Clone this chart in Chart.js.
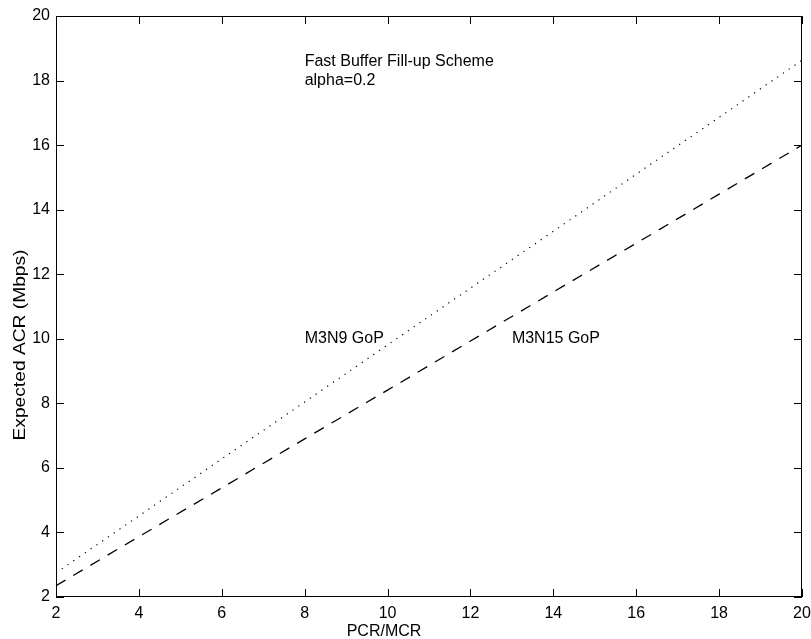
<!DOCTYPE html>
<html>
<head>
<meta charset="utf-8">
<script src="https://cdn.jsdelivr.net/npm/chart.js@4/dist/chart.umd.min.js"></script>
<style>
  html, body { margin: 0; padding: 0; background: #fff; }
  #wrap { width: 811px; height: 639px; }
</style>
</head>
<body>
<div id="wrap"><canvas id="acrChart" width="811" height="639"></canvas></div>
<script>
// values
const pcrMcr = [2, 4, 6, 8, 10, 12, 14, 16, 18, 20];
const acrM3N9 = [2.75, 4.51, 6.28, 8.04, 9.81, 11.57, 13.33, 15.10, 16.86, 18.63];
const acrM3N15 = [2.35, 3.87, 5.38, 6.90, 8.41, 9.93, 11.45, 12.96, 14.48, 16.00];
const tickValues = [2, 4, 6, 8, 10, 12, 14, 16, 18, 20];
const notes = [
    { text: "Fast Buffer Fill-up Scheme", x: 8, y: 18.6 },
    { text: "alpha=0.2", x: 8, y: 18.0 },
    { text: "M3N9 GoP", x: 8, y: 10 },
    { text: "M3N15 GoP", x: 13, y: 10 },
];

const FONT = "'Liberation Sans', Arial, Helvetica, sans-serif";

const toPoints = (xs, ys) => xs.map((x, i) => ({ x: x, y: ys[i] }));

// box + inward tick marks, like the original plot
const boxTicks = {
    id: "boxTicks",
    afterDraw(chart) {
        const { ctx, chartArea: a, scales } = chart;
        const len = 8;
        ctx.save();
        ctx.strokeStyle = "#000";
        ctx.lineWidth = 1;
        ctx.strokeRect(a.left + 0.5, a.top + 0.5, a.right - a.left - 1, a.bottom - a.top - 1);
        ctx.beginPath();
        tickValues.forEach(v => {
            const px = Math.round(scales.x.getPixelForValue(v)) + 0.5;
            ctx.moveTo(px, a.bottom);
            ctx.lineTo(px, a.bottom - len);
            ctx.moveTo(px, a.top);
            ctx.lineTo(px, a.top + len);
            const py = Math.round(scales.y.getPixelForValue(v)) + 0.5;
            ctx.moveTo(a.left, py);
            ctx.lineTo(a.left + len, py);
            ctx.moveTo(a.right, py);
            ctx.lineTo(a.right - len, py);
        });
        ctx.stroke();

        // text labels inside the plot
        ctx.fillStyle = "#000";
        ctx.font = "16px " + FONT;
        ctx.textAlign = "left";
        ctx.textBaseline = "middle";
        notes.forEach(n => {
            ctx.fillText(n.text, scales.x.getPixelForValue(n.x), scales.y.getPixelForValue(n.y));
        });

        // axis titles
        ctx.textAlign = "center";
        ctx.fillText("PCR/MCR", 384, 632);
        ctx.translate(21, 345);
        ctx.rotate(-Math.PI / 2);
        ctx.scale(1.2, 1); // the y label is drawn wider in the original
        ctx.fillText("Expected ACR (Mbps)", 0, 0);
        ctx.restore();
    }
};

const ctx = document.getElementById("acrChart").getContext("2d");
new Chart(ctx, {
    type: "line",
    data: {
        datasets: [{
            label: "M3N9 GoP",
            data: toPoints(pcrMcr, acrM3N9),
            borderColor: "#000",
            borderWidth: 1.2,
            borderDash: [1.2, 5.8],
            pointRadius: 0,
            tension: 0,
        }, {
            label: "M3N15 GoP",
            data: toPoints(pcrMcr, acrM3N15),
            borderColor: "#000",
            borderWidth: 1.3,
            borderDash: [11, 9],
            pointRadius: 0,
            tension: 0,
        }],
    },
    options: {
        responsive: false,
        devicePixelRatio: 1,
        animation: false,
        layout: { padding: { top: 16, right: 9, left: 0, bottom: 0 } },
        plugins: {
            legend: { display: false },
            tooltip: { enabled: false },
        },
        scales: {
            x: {
                type: "linear",
                min: 2,
                max: 20,
                afterFit: (s) => { s.height = 42; s.paddingLeft = 0; s.paddingRight = 0; },
                afterBuildTicks: (s) => { s.ticks = tickValues.map(v => ({ value: v })); },
                grid: { display: false, drawTicks: false },
                border: { display: false },
                ticks: { color: "#000", padding: 7, maxRotation: 0, font: { family: FONT, size: 16 } },
            },
            y: {
                min: 2,
                max: 20,
                afterFit: (s) => { s.width = 56; s.paddingTop = 0; s.paddingBottom = 0; },
                afterBuildTicks: (s) => { s.ticks = tickValues.map(v => ({ value: v })); },
                grid: { display: false, drawTicks: false },
                border: { display: false },
                ticks: { color: "#000", padding: 6, font: { family: FONT, size: 16 } },
            },
        },
    },
    plugins: [boxTicks],
});
</script>
</body>
</html>
